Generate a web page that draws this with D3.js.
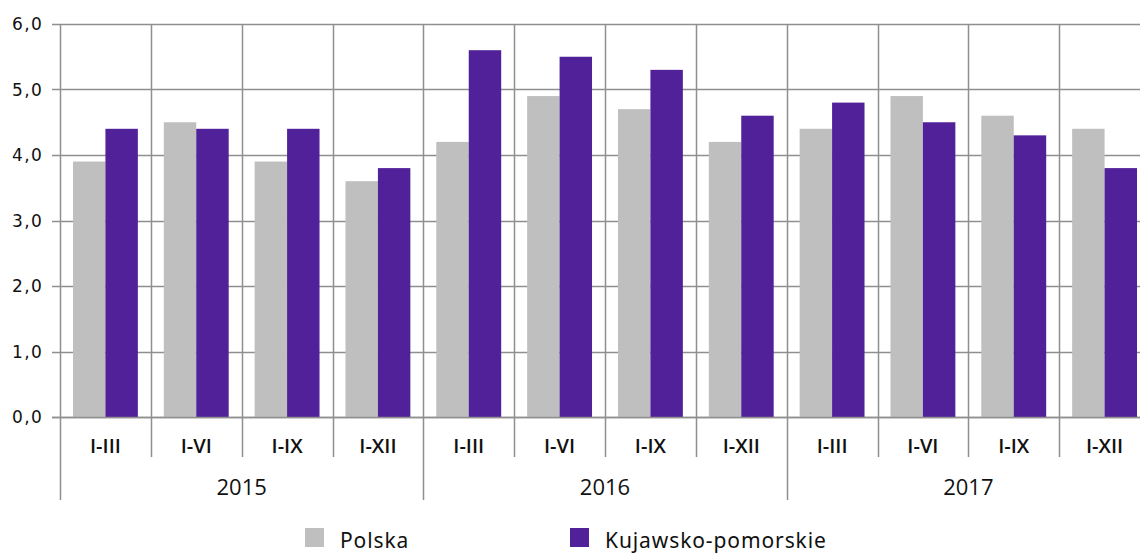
<!DOCTYPE html>
<html>
<head>
<meta charset="utf-8">
<script src="https://cdn.jsdelivr.net/npm/d3@7"></script>
<style>
  body { margin: 0; background: #fff; }
  svg { display: block; }
</style>
</head>
<body>
<div id="plot"></div>
<script>
// chart values
const years = ["2015", "2016", "2017"];
const periods = ["I-III", "I-VI", "I-IX", "I-XII"];
const seriesNames = ["Polska", "Kujawsko-pomorskie"];
const polska = [3.9, 4.5, 3.9, 3.6, 4.2, 4.9, 4.7, 4.2, 4.4, 4.9, 4.6, 4.4];
const kujawsko = [4.4, 4.4, 4.4, 3.8, 5.6, 5.5, 5.3, 4.6, 4.8, 4.5, 4.3, 3.8];
const yTicks = [0, 1, 2, 3, 4, 5, 6];

const width = 1140, height = 554;
const plotLeft = 60, plotRight = 1150, plotTop = 24, plotBottom = 417;

const colors = ["#bfbfbf", "#51219a"];
const gridColor = "#8f8f8f";

// one band per year/period pair
const cats = [];
years.forEach(y => periods.forEach(p => cats.push({year: y, period: p, key: y + "|" + p})));
const rows = cats.map((c, i) => ({...c, values: [polska[i], kujawsko[i]]}));

const x = d3.scaleBand()
  .domain(cats.map(c => c.key))
  .range([plotLeft, plotRight]);

const xInner = d3.scaleBand()
  .domain(seriesNames)
  .range([0, x.bandwidth()])
  .paddingOuter(0.4);

const y = d3.scaleLinear()
  .domain([0, 6])
  .range([plotBottom, plotTop]);

const svg = d3.select("#plot")
  .append("svg")
    .attr("width", width)
    .attr("height", height);

// horizontal grid + y labels
svg.append("g")
  .selectAll("line")
  .data(yTicks)
  .join("line")
    .attr("x1", plotLeft - 8)
    .attr("x2", plotRight)
    .attr("y1", d => Math.round(y(d)) + 0.5)
    .attr("y2", d => Math.round(y(d)) + 0.5)
    .attr("stroke", gridColor)
    .attr("stroke-width", 1.5);

svg.append("g")
  .selectAll("text")
  .data(yTicks)
  .join("text")
    .attr("x", 43)
    .attr("y", d => y(d))
    .attr("dy", "0.36em")
    .attr("text-anchor", "end")
    .style("font-family", "DejaVu Sans")
    .style("font-size", "17px")
    .style("letter-spacing", "1.3px")
    .attr("fill", "#111")
    .text(d => d.toFixed(1).replace(".", ","));

// vertical grid lines at band edges
const edges = cats.map(c => x(c.key)).concat([plotRight]);
svg.append("g")
  .selectAll("line")
  .data(edges)
  .join("line")
    .attr("x1", d => Math.round(d) + 0.5)
    .attr("x2", d => Math.round(d) + 0.5)
    .attr("y1", plotTop)
    .attr("y2", (d, i) => i % periods.length === 0 ? 500 : 457)
    .attr("stroke", gridColor)
    .attr("stroke-width", 1.5);

// bars
const groups = svg.append("g")
  .selectAll("g")
  .data(rows)
  .join("g")
    .attr("transform", d => `translate(${x(d.key)},0)`);

groups.selectAll("rect")
  .data(d => d.values.map((v, i) => ({name: seriesNames[i], value: v, i: i})))
  .join("rect")
    .attr("x", d => xInner(d.name))
    .attr("width", xInner.bandwidth())
    .attr("y", d => y(d.value))
    .attr("height", d => y(0) - y(d.value))
    .attr("fill", d => colors[d.i]);

// redraw the zero line over the bars
svg.append("line")
  .attr("x1", plotLeft - 8).attr("x2", plotRight)
  .attr("y1", Math.round(y(0)) + 0.5).attr("y2", Math.round(y(0)) + 0.5)
  .attr("stroke", gridColor).attr("stroke-width", 1.5);

// period labels
svg.append("g")
  .selectAll("text")
  .data(cats)
  .join("text")
    .attr("x", d => x(d.key) + x.bandwidth() / 2)
    .attr("y", 453)
    .attr("text-anchor", "middle")
    .style("font-family", "Open Sans")
    .style("font-size", "20px")
    .style("font-weight", "600")
    .attr("fill", "#111")
    .text(d => d.period);

// year labels
svg.append("g")
  .selectAll("text")
  .data(years)
  .join("text")
    .attr("x", d => {
      const a = x(d + "|" + periods[0]);
      const b = x(d + "|" + periods[periods.length - 1]) + x.bandwidth();
      return (a + b) / 2;
    })
    .attr("y", 495)
    .attr("text-anchor", "middle")
    .style("font-family", "Open Sans")
    .style("font-size", "22px")
    .attr("fill", "#111")
    .text(d => d);

// legend
const legendX = [305, 570];
const legend = svg.append("g")
  .selectAll("g")
  .data(seriesNames)
  .join("g")
    .attr("transform", (d, i) => `translate(${legendX[i]},528)`);

legend.append("rect")
  .attr("width", 19)
  .attr("height", 19)
  .attr("fill", (d, i) => colors[i]);

legend.append("text")
  .attr("x", 35)
  .attr("y", 20)
  .style("font-family", "Noto Sans")
  .style("font-size", "21px")
  .style("letter-spacing", "0.9px")
  .attr("fill", "#111")
  .text(d => d);
</script>
</body>
</html>
